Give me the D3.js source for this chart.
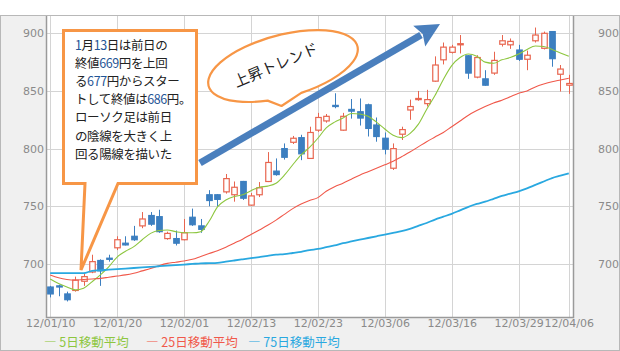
<!DOCTYPE html>
<html lang="ja">
<head>
<meta charset="UTF-8">
<title>上昇トレンド</title>
<script src="https://cdn.jsdelivr.net/npm/d3@7/dist/d3.min.js"></script>
<style>
body{margin:0;background:#fff;}
svg{display:block;font-family:"DejaVu Sans",sans-serif;}
.jp{font-family:"Noto Sans CJK JP",sans-serif;}
</style>
</head>
<body>
<div id="root"></div>
<script>
// trading days 2012/01/10 - 2012/04/06
const dates = ["01/10","01/11","01/12","01/13","01/16","01/17","01/18","01/19","01/20","01/23","01/24","01/25","01/26","01/27","01/30","01/31",
  "02/01","02/02","02/03","02/06","02/07","02/08","02/09","02/10","02/13","02/14","02/15","02/16","02/17","02/20","02/21","02/22","02/23","02/24","02/27","02/28","02/29",
  "03/01","03/02","03/05","03/06","03/07","03/08","03/09","03/12","03/13","03/14","03/15","03/16","03/19","03/21","03/22","03/23","03/26","03/27","03/28","03/29","03/30",
  "04/02","04/03","04/04","04/05","04/06"]
const open  = [680,681,674,677,685,693,703,705,714,718,724,733,742,741,722,722,721,740.5,733,760,760,762.5,760,771.5,751,760,771.5,780.5,800,805.5,809.5,791.5,816,824,837.5,816,834,832,838,820.5,809,783,812.5,833.5,842.5,839,858.5,877,883.5,890,880.5,862,860.5,865.5,890.5,890,885.5,877.5,893.5,887,901.5,864.5,855]
const high  = [681,682,676,689,692,708,704,708,724,724,733,745,745,747,728,729,739,748,739,764,760.5,778,771.5,772,761.5,771,797,791.5,804.5,811,812,819,831,830,848,831,843,843.5,839,827,814,804.5,819,842.5,850,851,880,892,890,898.5,881,881,868,884,898.5,895.5,890,885,905,901.5,901.5,872.5,864]
const low   = [671,672,667.5,676,681,692,681,702,712,716,720,731,733,727,721,716,720.5,733,727,750,750,761,754,755.5,750.5,758,771,776.5,790.5,804,790,791,814.5,822.5,835,815.5,826,820,810.5,806,795,781.5,807.5,825,841.5,836.5,858,873,882.5,882.5,860.5,861,854.5,864,888.5,886.5,876,868,892,886,871,849.5,847.5]
const close = [674,680,669,686,689,702,694,704,721,716.5,721,739,734.5,728,726.5,718,727,734,730,755,756,774,766.5,757,759,766,788,777.5,792.5,809,795.5,814,827,828,836.5,828,832.5,826.5,817.5,810.5,799.5,800,816.5,836.5,843.5,842.5,872.5,888,888,891,865.5,879,855,876.5,893.5,893,877.5,881,898.5,900,878,869,856.5]

const ma5  = [687,683,680,677.5,679,684.5,690.5,697.5,706,711,715,721,726.5,729,729.5,728,727,727,728,737,749.5,755.5,758.5,760,763.5,766.5,767.5,770,777,786,794.5,801,809,818,823,826.5,830.5,830,828,823,817,811.5,809.5,813,821,834,846,860,872,879,882,880,875,874,877,879,882,886,889,888.5,886,883,880]
const ma25 = [690.5,688,686.5,686,686.5,687,687.5,688.5,689.5,690.5,692,694,696,698.5,700.5,701.5,702.5,704,706.5,709,711.5,714.5,718,721.5,725.5,729.5,733.5,738,743,748,752,755,757.5,763,767,770,773.5,777,780,783,786,789,793,797,801.5,806,810,814,819,824,829,833,836.5,839.5,842,845,848,850,853.5,856,858,859.5,861]
const ma75 = [692,692,692,692,692,694,694.5,695,695.5,696,696.5,697,697.5,698,698.5,699,699.5,700,700.5,700.7,701,702,703,704,705,706,707,708,708.5,709.5,710.5,712,713,714.5,716,718,719.5,721,722.5,724,725.5,727,728.5,730.5,733,735.5,738.5,741,743.5,746.5,749.5,752,754,756.5,759,761,763,765.5,768.5,771.5,774.5,776.5,778.5]

const tickIdx = [0,8,16,24,32,40,48,56,62]
const yTicks = [700,750,800,850,900]
const legendNames = ["5日移動平均","25日移動平均","75日移動平均"]
const noteLines = [["1","月","13","日は前日の"],["終値","669","円を上回"],["る","677","円からスター"],["トして終値は","686","円。"],["ローソク足は前日"],["の陰線を大きく上"],["回る陽線を描いた"]]

let W = 620, H = 351
let pL = 46, pR = 573, pT = 16, pB = 317
let upColor = "#e8654f", downColor = "#3c7fc0"
let maColors = ["#8dc63f","#f0584a","#29a8e0"]

let svg = d3.select("#root").append("svg").attr("width", W).attr("height", H)

let x = d3.scaleLinear().domain([-0.5, dates.length - 0.5]).range([pL, pR])
let y = d3.scaleLinear().domain([654, 915]).range([pB, pT])

// frame & side panels
svg.append("rect").attr("x", 0.5).attr("y", 15.5).attr("width", W - 1).attr("height", H - 16)
   .attr("fill", "#f0f0f0").attr("stroke", "#b8b8b8")
svg.append("rect").attr("x", pL).attr("y", pT).attr("width", pR - pL).attr("height", pB - pT).attr("fill", "#fff")

// grid
svg.append("g").selectAll("line").data(yTicks).join("line")
   .attr("x1", pL).attr("x2", pR).attr("y1", d => Math.round(y(d)) + 0.5).attr("y2", d => Math.round(y(d)) + 0.5)
   .attr("stroke", "#d4d4d4")
svg.append("g").selectAll("line").data(tickIdx).join("line")
   .attr("x1", d => Math.round(x(d)) + 0.5).attr("x2", d => Math.round(x(d)) + 0.5).attr("y1", pT).attr("y2", pB)
   .attr("stroke", "#d4d4d4")

// plot border
svg.append("path").attr("d", `M${pL + 0.5},${pT}V${pB + 0.5}H${pR + 0.5}V${pT}`)
   .attr("fill", "none").attr("stroke", "#9a9a9a").attr("stroke-width", 1.5)

// axes
let axL = svg.append("g").attr("transform", `translate(${pL - 2},0)`)
   .call(d3.axisLeft(y).tickValues(yTicks).tickSize(0).tickPadding(0))
let axR = svg.append("g").attr("transform", `translate(${pR + 25},0)`)
   .call(d3.axisRight(y).tickValues(yTicks).tickSize(0).tickPadding(0))
let axB = svg.append("g").attr("transform", `translate(0,${pB + 1})`)
   .call(d3.axisBottom(x).tickValues(tickIdx).tickSize(0).tickPadding(1).tickFormat(i => "12/" + dates[i]))
;[axL, axR, axB].forEach(a => {
  a.select(".domain").remove()
  a.selectAll("text").attr("fill", "#8a8a8a").style("font-size", "11px").style("font-family", "DejaVu Sans")
})

// candles
let cw = 5.5
let candles = svg.append("g").selectAll("g").data(dates.map((d, i) => i)).join("g")
candles.append("line")
   .attr("x1", i => Math.round(x(i)) + 0.5).attr("x2", i => Math.round(x(i)) + 0.5)
   .attr("y1", i => y(high[i])).attr("y2", i => y(low[i]))
   .attr("stroke", i => close[i] >= open[i] ? upColor : downColor)
candles.append("rect")
   .attr("x", i => Math.round(x(i)) + 0.5 - cw / 2)
   .attr("width", cw)
   .attr("y", i => y(Math.max(open[i], close[i])))
   .attr("height", i => Math.max(1, Math.abs(y(open[i]) - y(close[i]))))
   .attr("fill", i => close[i] >= open[i] ? "#fff" : downColor)
   .attr("stroke", i => close[i] >= open[i] ? upColor : downColor)
   .attr("stroke-width", 1.2)

// moving averages
let line = d3.line().x((d, i) => x(i)).y(d => y(d)).curve(d3.curveMonotoneX)
;[ma5, ma25, ma75].forEach((s, k) => {
  svg.append("path").datum(s).attr("d", line).attr("fill", "none")
     .attr("stroke", maColors[k]).attr("stroke-width", k == 2 ? 1.8 : 1.1)
})

// legend
let lg = svg.append("g").attr("class", "jp").style("font-size", "12.5px")
let lx = [44, 146, 248]
legendNames.forEach((n, k) => {
  lg.append("text").attr("x", lx[k]).attr("y", 347).attr("fill", maColors[k]).text("— " + n)
})

// trend arrow
let ax1 = 200, ay1 = 163, ax2 = 440, ay2 = 24
let len = Math.hypot(ax2 - ax1, ay2 - ay1), ux = (ax2 - ax1) / len, uy = (ay2 - ay1) / len
let hl = 24, hw = 12
let bx = ax2 - ux * hl, by = ay2 - uy * hl
svg.append("line").attr("x1", ax1).attr("y1", ay1).attr("x2", bx + ux * 2).attr("y2", by + uy * 2)
   .attr("stroke", "#4a7fbd").attr("stroke-width", 7)
svg.append("path")
   .attr("d", `M${ax2},${ay2}L${bx - uy * hw},${by + ux * hw}L${bx + ux * 4},${by + uy * 4}L${bx + uy * hw},${by - ux * hw}Z`)
   .attr("fill", "#4a7fbd")

// speech ellipse
let cx = 283, cy = 66, rx = 77, ry = 31, rot = -15 * Math.PI / 180
function ep(t) {
  t = t * Math.PI / 180
  return [cx + rx * Math.cos(t) * Math.cos(rot) - ry * Math.sin(t) * Math.sin(rot),
          cy + rx * Math.cos(t) * Math.sin(rot) + ry * Math.sin(t) * Math.cos(rot)]
}
let p1 = ep(108), p2 = ep(82)
svg.append("path")
   .attr("d", `M${p1}A${rx},${ry} -15 1 1 ${p2}L281.5,106Z`)
   .attr("fill", "#fff").attr("stroke", "#f79646").attr("stroke-width", 2.2).attr("stroke-linejoin", "round")
svg.append("text").attr("class", "jp").attr("transform", "translate(278,70) rotate(-23)")
   .attr("text-anchor", "middle").style("font-size", "15px").attr("fill", "#222").text("上昇トレンド")

// callout box
svg.append("path")
   .attr("d", "M63.5,30.5H196.5V183.5H118L81,270L85,183.5H63.5Z")
   .attr("fill", "#fff").attr("stroke", "#f79646").attr("stroke-width", 3).attr("stroke-linejoin", "miter")
let note = svg.append("text").attr("class", "jp").style("font-size", "12.5px").style("letter-spacing", "-0.4px").attr("fill", "#222")
noteLines.forEach((parts, k) => {
  let t = note.append("tspan").attr("x", 75).attr("y", 50 + k * 18.1)
  parts.forEach(p => {
    t.append("tspan").attr("fill", /^\d+$/.test(p) ? "#1f5596" : "#222").text(p)
  })
})
</script>
</body>
</html>
